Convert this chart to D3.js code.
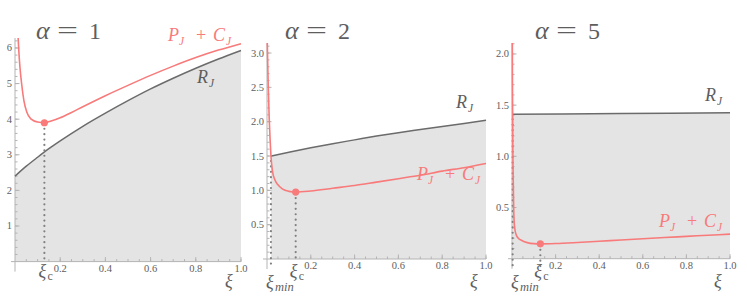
<!DOCTYPE html>
<html><head><meta charset="utf-8">
<script src="https://cdn.jsdelivr.net/npm/d3@7"></script>
<style>body{margin:0;background:#fff}svg{display:block}</style>
</head><body>
<svg id="c" width="747" height="298"></svg>
<script>
// ---------- data ----------
const alphas = [1, 2, 5];
const xiTicks = [0.2, 0.4, 0.6, 0.8, 1.0];
const xiTickLabels = ["0.2", "0.4", "0.6", "0.8", "1.0"];

const yTicks1 = [1, 2, 3, 4, 5, 6];
const yTickLabels1 = ["1", "2", "3", "4", "5", "6"];
const yTicks2 = [0.5, 1.0, 1.5, 2.0, 2.5, 3.0];
const yTickLabels2 = ["0.5", "1.0", "1.5", "2.0", "2.5", "3.0"];
const yTicks3 = [0.5, 1.0, 1.5, 2.0];
const yTickLabels3 = ["0.5", "1.0", "1.5", "2.0"];

// alpha = 1
const rXi1 = [0, 0.05, 0.1, 0.15, 0.2, 0.3, 0.4, 0.5, 0.6, 0.7, 0.8, 0.9, 1.0];
const rVal1 = [2.40, 2.68, 2.93, 3.17, 3.39, 3.80, 4.17, 4.52, 4.85, 5.15, 5.43, 5.69, 5.93];
const pXi1 = [0.013, 0.017, 0.022, 0.03, 0.04, 0.052, 0.07, 0.1, 0.13, 0.16, 0.2, 0.25, 0.3, 0.4, 0.5, 0.6, 0.7, 0.8, 0.9, 1.0];
const pVal1 = [6.40, 5.90, 5.45, 4.96, 4.50, 4.20, 4.01, 3.92, 3.90, 3.95, 4.04, 4.19, 4.35, 4.66, 4.95, 5.23, 5.49, 5.73, 5.94, 6.12];
const xiC1 = 0.13, pC1 = 3.90, xiMin1 = 0;

// alpha = 2
const rXi2 = [0.018, 0.1, 0.2, 0.3, 0.4, 0.5, 0.6, 0.7, 0.8, 0.9, 1.0];
const rVal2 = [1.50, 1.555, 1.62, 1.68, 1.735, 1.79, 1.84, 1.885, 1.93, 1.975, 2.02];
const pXi2 = [0.001, 0.005, 0.01, 0.014, 0.018, 0.025, 0.035, 0.05, 0.07, 0.1, 0.131, 0.2, 0.3, 0.4, 0.5, 0.6, 0.7, 0.8, 0.9, 1.0];
const pVal2 = [3.20, 2.60, 2.05, 1.75, 1.50, 1.28, 1.16, 1.08, 1.02, 0.985, 0.975, 0.99, 1.03, 1.07, 1.12, 1.17, 1.22, 1.28, 1.33, 1.39];
const xiC2 = 0.131, pC2 = 0.975, xiMin2 = 0.018;

// alpha = 5
const rXi3 = [0.003, 0.5, 1.0];
const rVal3 = [1.41, 1.418, 1.425];
const pXi3 = [0.0015, 0.002, 0.003, 0.004, 0.006, 0.009, 0.013, 0.02, 0.03, 0.045, 0.07, 0.1, 0.13, 0.2, 0.3, 0.4, 0.5, 0.6, 0.7, 0.8, 0.9, 1.0];
const pVal3 = [2.15, 1.75, 1.41, 1.05, 0.72, 0.40, 0.29, 0.23, 0.198, 0.178, 0.157, 0.147, 0.145, 0.148, 0.158, 0.170, 0.183, 0.195, 0.207, 0.218, 0.229, 0.240];
const xiC3 = 0.13, pC3 = 0.145, xiMin3 = 0.003;

// ---------- layout ----------
const RED = "#f87a7a", GRAY = "#6b6b6b", FILL = "#e4e4e4", AXIS = "#b4b4b4", TXT = "#5e5e5e";
const FONT = "'Liberation Serif'";
const panels = [
  {x0:15, x1:241, y0:261.6, yTop:38, yMax:6.28, yTicks:yTicks1, yLab:yTickLabels1, yMinor:0.2,
   rXi:rXi1, r:rVal1, pXi:pXi1, p:pVal1, xiC:xiC1, pC:pC1, xiMin:xiMin1, showMin:false, cExt:0,
   title:[36,39], rLab:[197,83], pLab:[168,41]},
  {x0:267, x1:486, y0:259, yTop:43, yMax:3.146, yTicks:yTicks2, yLab:yTickLabels2, yMinor:0.1,
   rXi:rXi2, r:rVal2, pXi:pXi2, p:pVal2, xiC:xiC2, pC:pC2, xiMin:xiMin2, showMin:true, cExt:0,
   title:[285,39], rLab:[456,108], pLab:[417,180]},
  {x0:512, x1:730, y0:258.7, yTop:43, yMax:2.107, yTicks:yTicks3, yLab:yTickLabels3, yMinor:0.1,
   rXi:rXi3, r:rVal3, pXi:pXi3, p:pVal3, xiC:xiC3, pC:pC3, xiMin:xiMin3, showMin:true, cExt:9,
   title:[535,39], rLab:[705,101], pLab:[659,227]}
];

const svg = d3.select("#c");

function txt(g, x0, y0, s, size, color, italic) {
  return g.append("text").attr("x", x0).attr("y", y0)
    .style("font-family", FONT).style("font-size", size + "px")
    .style("font-style", italic ? "italic" : "normal")
    .attr("fill", color).text(s);
}
// italic letter with italic subscript
function symSub(g, x0, y0, main, sub, color, size, subSize, subDx) {
  txt(g, x0, y0, main, size, color, true);
  txt(g, x0 + subDx, y0 + 3.5, sub, subSize, color, true);
}

panels.forEach((P, i) => {
  const x = d3.scaleLinear().domain([0, 1]).range([P.x0, P.x1]);
  const y = d3.scaleLinear().domain([0, P.yMax]).range([P.y0, P.yTop]);
  const g = svg.append("g");
  const clipId = "clip" + i;
  svg.append("clipPath").attr("id", clipId).append("rect")
    .attr("x", P.x0 - 2).attr("y", P.yTop).attr("width", P.x1 - P.x0 + 4).attr("height", P.y0 - P.yTop + 12);

  const rData = P.rXi.map((v, k) => [v, P.r[k]]);
  const pData = P.pXi.map((v, k) => [v, P.p[k]]);

  // shaded region under R_J
  g.append("path").datum(rData)
    .attr("d", d3.area().x(d => x(d[0])).y0(y(0)).y1(d => y(d[1])).curve(d3.curveMonotoneX))
    .attr("fill", FILL);

  // axes
  g.append("line").attr("x1", x(0) - 4).attr("x2", x(1)).attr("y1", y(0)).attr("y2", y(0))
    .attr("stroke", AXIS).attr("stroke-width", 1);
  g.append("line").attr("x1", x(0)).attr("x2", x(0)).attr("y1", P.yTop).attr("y2", y(0) + 10)
    .attr("stroke", AXIS).attr("stroke-width", 1);

  // x ticks
  const xMinor = d3.range(0.05, 1.0001, 0.05);
  g.selectAll(null).data(xMinor).enter().append("line")
    .attr("x1", d => x(d)).attr("x2", d => x(d)).attr("y1", y(0)).attr("y2", y(0) - 2.5)
    .attr("stroke", AXIS);
  g.selectAll(null).data(xiTicks).enter().append("line")
    .attr("x1", d => x(d)).attr("x2", d => x(d)).attr("y1", y(0)).attr("y2", y(0) - 4.5)
    .attr("stroke", AXIS);
  xiTicks.forEach((d, k) => txt(g, x(d), y(0) + 10, xiTickLabels[k], 10.5, TXT, false).attr("text-anchor", "middle"));

  // y ticks
  const yMinor = d3.range(P.yMinor, P.yMax, P.yMinor);
  g.selectAll(null).data(yMinor).enter().append("line")
    .attr("x1", x(0)).attr("x2", x(0) + 2.5).attr("y1", d => y(d)).attr("y2", d => y(d))
    .attr("stroke", AXIS);
  g.selectAll(null).data(P.yTicks).enter().append("line")
    .attr("x1", x(0)).attr("x2", x(0) + 4.5).attr("y1", d => y(d)).attr("y2", d => y(d))
    .attr("stroke", AXIS);
  P.yTicks.forEach((d, k) => txt(g, x(0) - 3, y(d) + 3.5, P.yLab[k], 10.5, TXT, false).attr("text-anchor", "end"));

  // R_J line
  g.append("path").datum(rData)
    .attr("d", d3.line().x(d => x(d[0])).y(d => y(d[1])).curve(d3.curveMonotoneX))
    .attr("fill", "none").attr("stroke", GRAY).attr("stroke-width", 1.5);

  // dotted verticals
  const dotted = (xv, ytop, ybot) => g.append("line")
    .attr("x1", x(xv)).attr("x2", x(xv)).attr("y1", ytop).attr("y2", ybot)
    .attr("stroke", "#808080").attr("stroke-width", 2.2).attr("stroke-linecap", "round")
    .attr("stroke-dasharray", "0,5.4");
  if (P.showMin) dotted(P.xiMin, y(P.r[0]) + 5, y(0) + 7);
  dotted(P.xiC, y(P.pC) + 6, y(0) + P.cExt);

  // P_J + C_J line
  g.append("path").datum(pData).attr("clip-path", "url(#" + clipId + ")")
    .attr("d", d3.line().x(d => x(d[0])).y(d => y(d[1])).curve(d3.curveMonotoneX))
    .attr("fill", "none").attr("stroke", RED).attr("stroke-width", 1.6);

  g.append("circle").attr("cx", x(P.xiC)).attr("cy", y(P.pC)).attr("r", 3.6).attr("fill", RED);

  // titles  "α = n"
  const tx = P.title[0], ty = P.title[1];
  txt(g, tx, ty, "α", 26, TXT, true);
  txt(g, tx + 21, ty - 1, "=", 24, TXT, false).attr("textLength", 21).attr("lengthAdjust", "spacingAndGlyphs");
  txt(g, tx + 53, ty, String(alphas[i]), 24, TXT, false);

  // R_J label
  symSub(g, P.rLab[0], P.rLab[1], "R", "J", TXT, 18, 11.5, 12);

  // P_J + C_J label
  const px = P.pLab[0], py = P.pLab[1];
  symSub(g, px, py, "P", "J", RED, 18, 11.5, 11);
  txt(g, px + 33, py, "+", 18, RED, false).attr("text-anchor", "middle");
  symSub(g, px + 45, py, "C", "J", RED, 18, 11.5, 13);

  // axis label xi
  txt(g, x(1) - 16, 287, "ξ", 18, TXT, true);

  // xi_c label
  const cx = x(P.xiC) - 6;
  txt(g, cx, 277, "ξ", 18, TXT, true);
  txt(g, cx + 9, 280, "c", 12, TXT, false);

  if (P.showMin) {
    const mx = x(0) - 1;
    txt(g, mx, 288, "ξ", 18, TXT, true);
    txt(g, mx + 9, 291, "min", 12.5, TXT, true);
  }
});
</script>
</body></html>
